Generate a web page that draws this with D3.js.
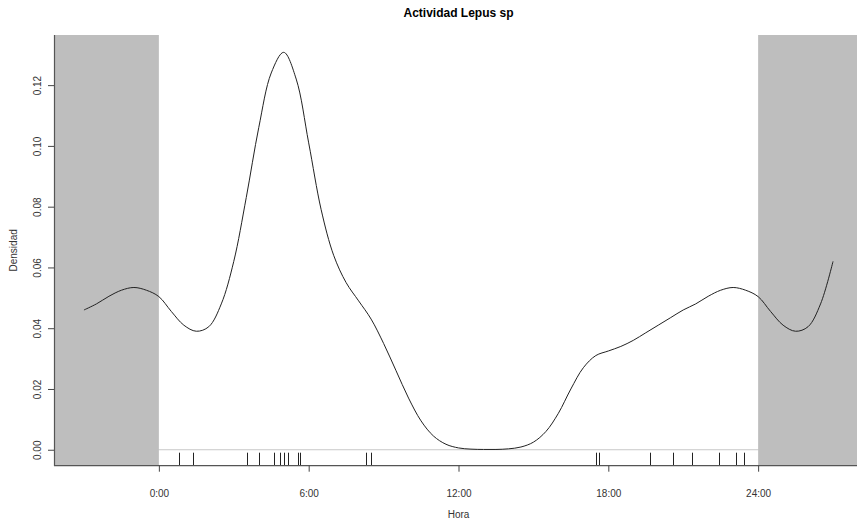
<!DOCTYPE html>
<html>
<head>
<meta charset="utf-8">
<style>
    body { margin: 0; background: #fff; }
    svg { display: block; font-family: "Liberation Sans", Arial, sans-serif; }
</style>
</head>
<body>
<svg width="857" height="519"></svg>
<script src="https://cdn.jsdelivr.net/npm/d3@7/dist/d3.min.js"></script>
<script>
    // hours along the x axis (circular data extended 3 h each side)
    const horas = d3.range(-3, 27.01, 0.5);
    // density at each hour
    const densidad = [
        0.046, 0.048, 0.0505, 0.0525, 0.0534, 0.0525, 0.0504, 0.0455, 0.041, 0.039,
        0.0405, 0.048, 0.062, 0.083, 0.106, 0.124, 0.1308, 0.122, 0.101, 0.079,
        0.064, 0.055, 0.049, 0.043, 0.035, 0.026, 0.017, 0.0095, 0.0045, 0.0018,
        0.0006, 0.0002, 0.0001, 0.0001, 0.0003, 0.0009, 0.0025, 0.006, 0.012, 0.020,
        0.027, 0.031, 0.0325, 0.034, 0.036, 0.0385, 0.041, 0.0435, 0.046, 0.048,
        0.0505, 0.0525, 0.0534, 0.0525, 0.0504, 0.0455, 0.041, 0.039, 0.0405, 0.048,
        0.062
    ];
    // detection times (rug)
    const detecciones = [0.79, 1.35, 3.52, 4.01, 4.61, 4.85, 5.01, 5.19, 5.57, 5.65, 8.29, 8.51,
        17.49, 17.63, 19.68, 20.59, 21.37, 22.44, 23.11, 23.44];
    const xTicks = [0, 6, 12, 18, 24];
    const yTicks = [0, 0.02, 0.04, 0.06, 0.08, 0.10, 0.12];

    const svg = d3.select('svg');
    const mLeft = 54, mRight = 863, mTop = 35, mBottom = 465.7;

    const x = d3.scaleLinear().domain([-4.2, 28.2]).range([mLeft, mRight]);
    const y = d3.scaleLinear().domain([-0.00525, 0.1365]).range([mBottom, mTop]);

    // zero line
    svg.append('line')
        .attr('x1', x(-4.2)).attr('x2', x(28.2))
        .attr('y1', y(0)).attr('y2', y(0))
        .attr('stroke', '#c8c8c8').attr('stroke-width', 1);

    // extended regions
    svg.append('rect')
        .attr('x', x(-4.2)).attr('y', mTop)
        .attr('width', x(0) - x(-4.2)).attr('height', mBottom - mTop)
        .attr('fill', '#bebebe');
    svg.append('rect')
        .attr('x', x(24)).attr('y', mTop)
        .attr('width', x(28.2) - x(24)).attr('height', mBottom - mTop)
        .attr('fill', '#bebebe');

    // density curve
    const line = d3.line()
        .x((d, i) => x(horas[i]))
        .y(d => y(Math.max(d, 0)))
        .curve(d3.curveCatmullRom.alpha(0.5));
    svg.append('path')
        .datum(densidad)
        .attr('d', line)
        .attr('fill', 'none')
        .attr('stroke', '#222')
        .attr('stroke-width', 1);

    // rug
    svg.selectAll('.rug')
        .data(detecciones)
        .enter()
        .append('line')
        .attr('class', 'rug')
        .attr('x1', d => Math.round(x(d)) + 0.5).attr('x2', d => Math.round(x(d)) + 0.5)
        .attr('y1', mBottom).attr('y2', mBottom - 13)
        .attr('stroke', '#222').attr('stroke-width', 1);

    // box (bty = "l")
    svg.append('path')
        .attr('d', `M${mLeft + 0.5},${mTop}V${mBottom}H${857}`)
        .attr('fill', 'none').attr('stroke', '#555').attr('stroke-width', 1.2);

    // axes
    const yAxis = svg.append('g')
        .attr('transform', `translate(${mLeft},0)`)
        .call(d3.axisLeft(y).tickValues(yTicks).tickFormat(d3.format('.2f')).tickSize(6));
    yAxis.select('.domain').remove();
    yAxis.selectAll('line').attr('stroke', '#444');
    yAxis.selectAll('text')
        .attr('transform', 'rotate(-90)')
        .attr('x', 0).attr('y', -13).attr('dy', 0)
        .attr('text-anchor', 'middle')
        .attr('font-size', 10).attr('font-family', 'Liberation Sans, Arial, sans-serif')
        .attr('fill', '#333');

    const xAxis = svg.append('g')
        .attr('transform', `translate(0,${mBottom})`)
        .call(d3.axisBottom(x).tickValues(xTicks).tickFormat(d => d + ':00').tickSize(6));
    xAxis.select('.domain').remove();
    xAxis.selectAll('line').attr('stroke', '#444');
    xAxis.selectAll('text')
        .attr('y', 24).attr('dy', '0.71em')
        .attr('font-size', 10).attr('font-family', 'Liberation Sans, Arial, sans-serif')
        .attr('fill', '#333');

    // labels
    svg.append('text')
        .attr('x', (mLeft + mRight) / 2).attr('y', 17)
        .attr('text-anchor', 'middle')
        .attr('font-size', 12).attr('font-weight', 'bold')
        .text('Actividad Lepus sp');

    svg.append('text')
        .attr('x', (mLeft + mRight) / 2).attr('y', 518)
        .attr('text-anchor', 'middle')
        .attr('font-size', 10).attr('fill', '#333')
        .text('Hora');

    svg.append('text')
        .attr('transform', `translate(17,${(mTop + mBottom) / 2}) rotate(-90)`)
        .attr('text-anchor', 'middle')
        .attr('font-size', 10).attr('fill', '#333')
        .text('Densidad');
</script>
</body>
</html>
